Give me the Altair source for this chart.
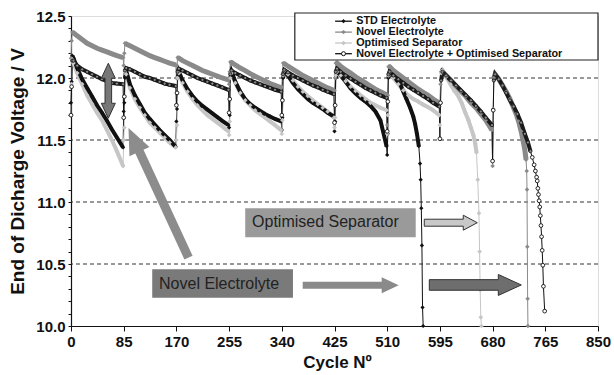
import altair as alt
import pandas as pd

SERIES = ["STD Electrolyte", "Novel Electrolyte", "Optimised Separator",
          "Novel Electrolyte + Optimised Separator"]
LINE_COLORS = ["#111111", "#8a8a8a", "#c6c6c6", "#111111"]

BLOCK_STARTS = [0, 85, 170, 255, 340, 425, 510, 595]
OFFSETS = [0, 1, 2, 4, 10, 18, 26, 34, 42, 50, 58, 66, 74, 84]

STD_BLOCKS = [
    [11.80, 11.97, 12.18, 12.16, 12.08, 11.99, 11.92, 11.85, 11.78, 11.72, 11.655, 11.585, 11.52, 11.44],
    [11.73, 11.80, 12.00, 12.06, 11.95, 11.86, 11.79, 11.72, 11.67, 11.625, 11.58, 11.54, 11.50, 11.445],
    [11.65, 11.75, 12.00, 12.05, 11.98, 11.91, 11.855, 11.81, 11.775, 11.745, 11.715, 11.685, 11.655, 11.62],
    [11.60, 11.70, 12.00, 12.05, 11.97, 11.89, 11.83, 11.79, 11.76, 11.735, 11.71, 11.69, 11.67, 11.65],
    [11.58, 11.68, 12.00, 12.05, 12.02, 11.96, 11.91, 11.87, 11.83, 11.80, 11.775, 11.75, 11.72, 11.69],
    [11.57, 11.65, 12.00, 12.05, 12.02, 11.97, 11.915, 11.875, 11.84, 11.81, 11.775, 11.73, 11.66, 11.45],
]
STD_TAIL_C = [510, 511, 512, 514, 520, 526, 531, 536, 541, 547, 552, 555, 558, 561, 563, 564, 565, 566, 567, 568]
STD_TAIL_V = [11.38, 11.55, 12.00, 12.05, 12.02, 11.98, 11.95, 11.89, 11.83, 11.76, 11.69, 11.63, 11.55, 11.45,
              11.31, 11.18, 10.95, 10.65, 10.15, 10.00]

NOV_BLOCKS = [
    [12.16, 12.30, 12.37, 12.365, 12.34, 12.31, 12.28, 12.26, 12.24, 12.225, 12.21, 12.195, 12.18, 12.165],
    [12.10, 12.20, 12.28, 12.275, 12.26, 12.24, 12.22, 12.20, 12.18, 12.165, 12.15, 12.135, 12.12, 12.105],
    [12.00, 12.10, 12.165, 12.16, 12.14, 12.12, 12.10, 12.08, 12.06, 12.045, 12.03, 12.015, 12.00, 11.985],
    [11.95, 12.05, 12.13, 12.125, 12.105, 12.08, 12.06, 12.035, 12.015, 11.995, 11.975, 11.955, 11.94, 11.92],
    [11.93, 12.03, 12.12, 12.115, 12.095, 12.07, 12.045, 12.02, 12.00, 11.98, 11.96, 11.94, 11.92, 11.90],
    [11.90, 12.00, 12.12, 12.12, 12.095, 12.065, 12.04, 12.01, 11.985, 11.96, 11.935, 11.91, 11.89, 11.865],
    [11.62, 11.86, 12.09, 12.09, 12.06, 12.03, 12.00, 11.97, 11.94, 11.91, 11.885, 11.86, 11.83, 11.80],
    [11.80, 11.95, 12.05, 12.055, 12.02, 11.98, 11.935, 11.89, 11.85, 11.80, 11.76, 11.71, 11.66, 11.58],
]
NOV_TAIL_C = [680, 681, 682, 684, 690, 696, 702, 708, 713, 718, 722, 726, 729, 732, 734, 735, 735.5, 736, 736.5, 737]
NOV_TAIL_V = [11.29, 11.75, 12.00, 12.03, 11.99, 11.94, 11.89, 11.83, 11.77, 11.71, 11.65, 11.57, 11.50, 11.42,
              11.34, 11.25, 11.10, 10.64, 10.22, 10.00]

OPT_BLOCKS = [
    [11.70, 11.95, 12.15, 12.12, 12.04, 11.95, 11.86, 11.79, 11.72, 11.66, 11.58, 11.50, 11.41, 11.29],
    [11.50, 11.60, 12.05, 12.03, 11.92, 11.83, 11.76, 11.70, 11.64, 11.60, 11.56, 11.52, 11.48, 11.44],
    [11.50, 11.62, 12.00, 12.04, 11.96, 11.89, 11.83, 11.78, 11.74, 11.70, 11.67, 11.64, 11.61, 11.57],
    [11.54, 11.65, 12.00, 12.04, 11.96, 11.88, 11.82, 11.78, 11.74, 11.71, 11.68, 11.65, 11.62, 11.58],
    [11.55, 11.66, 12.02, 12.06, 12.03, 11.98, 11.93, 11.89, 11.855, 11.82, 11.79, 11.76, 11.73, 11.68],
    [11.60, 11.68, 12.02, 12.05, 12.02, 11.975, 11.93, 11.895, 11.86, 11.83, 11.80, 11.78, 11.76, 11.74],
    [11.55, 11.70, 12.02, 12.05, 12.00, 11.95, 11.90, 11.86, 11.83, 11.81, 11.785, 11.765, 11.74, 11.70],
]
OPT_TAIL_C = [595, 596, 597, 599, 605, 612, 618, 624, 630, 636, 641, 645, 649, 652, 654, 656, 658, 659, 660, 661, 662]
OPT_TAIL_V = [11.62, 11.80, 12.04, 12.06, 12.01, 11.95, 11.90, 11.86, 11.80, 11.72, 11.66, 11.60, 11.54, 11.47,
              11.40, 11.18, 10.91, 10.60, 10.29, 10.07, 10.00]

NOS_BLOCKS = [
    [11.70, 11.93, 12.14, 12.14, 12.10, 12.07, 12.05, 12.03, 12.01, 11.99, 11.975, 11.96, 11.955, 11.95],
    [11.68, 11.85, 12.06, 12.08, 12.07, 12.05, 12.03, 12.01, 12.00, 11.985, 11.97, 11.955, 11.945, 11.935],
    [11.78, 11.88, 12.05, 12.075, 12.06, 12.04, 12.02, 12.00, 11.985, 11.97, 11.955, 11.94, 11.925, 11.905],
    [11.72, 11.83, 12.03, 12.06, 12.04, 12.02, 12.00, 11.98, 11.965, 11.95, 11.935, 11.92, 11.905, 11.89],
    [11.70, 11.82, 12.03, 12.065, 12.045, 12.02, 12.00, 11.98, 11.96, 11.94, 11.925, 11.905, 11.89, 11.87],
    [11.64, 11.78, 12.05, 12.075, 12.05, 12.02, 11.995, 11.97, 11.945, 11.92, 11.90, 11.88, 11.86, 11.84],
    [11.57, 11.81, 12.03, 12.05, 12.02, 11.99, 11.96, 11.93, 11.905, 11.88, 11.855, 11.83, 11.80, 11.77],
    [11.51, 11.80, 11.98, 12.05, 12.02, 11.98, 11.94, 11.90, 11.86, 11.82, 11.775, 11.73, 11.68, 11.62],
]
NOS_TAIL_C = [680, 681, 682, 684, 690, 696, 702, 708, 714, 720, 726, 732, 737, 741, 744, 747, 749, 751, 752,
              753, 754, 755, 756, 757, 758, 759, 760, 761, 762, 764]
NOS_TAIL_V = [11.33, 11.74, 11.98, 12.03, 11.99, 11.94, 11.88, 11.82, 11.77, 11.71, 11.64, 11.55, 11.48, 11.41,
              11.36, 11.30, 11.25, 11.20, 11.17, 11.11, 11.06, 11.01, 10.96, 10.89, 10.81, 10.72, 10.61, 10.49,
              10.32, 10.12]

TAIL_CORE_END = {SERIES[0]: 561, SERIES[1]: 734, SERIES[2]: 654, SERIES[3]: 741}

X_TICKS = [0, 85, 170, 255, 340, 425, 510, 595, 680, 765, 850]
Y_TICKS = [round(10 + i * 0.1, 1) for i in range(26)]
GRID_V = [10.5, 11.0, 11.5, 12.0]

rows = []


def add(series, blocks, tail_c, tail_v):
    idx = 0
    for b, vals in zip(BLOCK_STARTS, blocks):
        for k, (off, v) in enumerate(zip(OFFSETS, vals)):
            rows.append(dict(series=series, block=b, cycle=b + off, v=v, core=k >= 2, idx=idx))
            idx += 1
    tb = tail_c[0]
    for k, (c, v) in enumerate(zip(tail_c, tail_v)):
        rows.append(dict(series=series, block=tb, cycle=c, v=v,
                         core=(k >= 2 and c <= TAIL_CORE_END[series]), idx=idx))
        idx += 1


add(SERIES[0], STD_BLOCKS, STD_TAIL_C, STD_TAIL_V)
add(SERIES[1], NOV_BLOCKS, NOV_TAIL_C, NOV_TAIL_V)
add(SERIES[2], OPT_BLOCKS, OPT_TAIL_C, OPT_TAIL_V)
add(SERIES[3], NOS_BLOCKS, NOS_TAIL_C, NOS_TAIL_V)
df = pd.DataFrame(rows)

FONT = "Liberation Sans"
XSCALE = alt.Scale(domain=[0, 850], nice=False, zero=False)

X_ENC = alt.X("cycle:Q", scale=XSCALE,
              axis=alt.Axis(values=X_TICKS, title="Cycle Nº", grid=False, tickSize=5,
                            labelPadding=3, labelFontSize=15, labelFontWeight="bold",
                            labelColor="#111", labelFlush=False, labelOverlap=False,
                            titleFontSize=17, titleFontWeight="bold", titleColor="#111",
                            titleX=266, titleY=41, titleBaseline="alphabetic",
                            domainColor="#111", tickColor="#111", domainWidth=1.2))
Y_ENC = alt.Y("v:Q", scale=alt.Scale(domain=[10, 12.5], nice=False, zero=False),
              axis=alt.Axis(values=Y_TICKS, title="End of Dicharge Voltage / V", grid=False,
                            labelExpr="round(datum.value*10) % 5 == 0 ? format(datum.value, '.1f') : ''",
                            tickSize=3, labelPadding=3, labelFontSize=15, labelFontWeight="bold",
                            labelColor="#111", labelOverlap=False, labelFlush=False,
                            titleFontSize=19, titleFontWeight="bold", titleColor="#111",
                            titleX=-54, titleY=155, titleAngle=270, titleAlign="center",
                            titleBaseline="middle",
                            domainColor="#111", tickColor="#111", domainWidth=1.2))

COLOR_ENC = alt.Color("series:N", scale=alt.Scale(domain=SERIES, range=LINE_COLORS), legend=None)

grid = alt.Chart(pd.DataFrame({"v": GRID_V})).mark_rule(
    strokeDash=[4, 3], color="#333", strokeWidth=1).encode(y=Y_ENC)

thin = alt.Chart(df).mark_line(strokeWidth=1).encode(
    x=X_ENC, y=Y_ENC, color=COLOR_ENC, detail="series:N", order="idx:Q")


def thick(series, width, color):
    d = df[(df.series == series) & (df.core)]
    return alt.Chart(d).mark_line(strokeWidth=width, color=color).encode(
        x=X_ENC, y=Y_ENC, detail="block:Q", order="idx:Q")


thick_opt = thick(SERIES[2], 4, "#c6c6c6")
thick_nov = thick(SERIES[1], 5, "#8a8a8a")
thick_std = thick(SERIES[0], 4, "#111111")
thick_nos = thick(SERIES[3], 4, "#1a1a1a")

DIA_SIZES = [18, 24, 12, 16]
dia = alt.Chart(df[df.series != SERIES[3]]).mark_point(
    shape="diamond", filled=True, opacity=1).encode(
    x=X_ENC, y=Y_ENC, color=COLOR_ENC,
    size=alt.Size("series:N", scale=alt.Scale(domain=SERIES, range=DIA_SIZES), legend=None))

nos = df[df.series == SERIES[3]]
circ_core = alt.Chart(nos[nos.core]).mark_point(
    shape="circle", filled=True, fill="#8c8c8c", stroke="#111", strokeWidth=0.8,
    size=10, opacity=1).encode(x=X_ENC, y=Y_ENC)
circ_free = alt.Chart(nos[~nos.core]).mark_point(
    shape="circle", filled=True, fill="white", stroke="#111", strokeWidth=0.9,
    size=14, opacity=1).encode(x=X_ENC, y=Y_ENC)

# annotation boxes and texts (data coordinates)
BOX_LABELS = ["Optimised Separator", "Novel Electrolyte"]
BOX_X1 = [281, 131]
BOX_X2 = [556, 358]
BOX_Y1 = [10.949, 10.457]
BOX_Y2 = [10.715, 10.228]
BOX_FILL = ["#9a9a9a", "#7a7a7a"]
TEXT_X = [292, 142]
TEXT_Y = [10.835, 10.342]


def box(i):
    return alt.Chart(pd.DataFrame({"cycle": [BOX_X1[i]], "cycle2": [BOX_X2[i]],
                                   "v": [BOX_Y1[i]], "v2": [BOX_Y2[i]]})).mark_rect(
        fill=BOX_FILL[i]).encode(x=X_ENC, x2="cycle2:Q", y=Y_ENC, y2="v2:Q")


texts = alt.Chart(pd.DataFrame({"cycle": TEXT_X, "v": TEXT_Y, "lab": BOX_LABELS})).mark_text(
    align="left", baseline="middle", fontSize=16, font=FONT, color="#222").encode(
    x=X_ENC, y=Y_ENC, text="lab:N")

# arrows: custom symbol paths drawn in pixels around an anchor in data coordinates
ARROW_LIGHT = "M0,-3.5L39,-3.5L39,-7.5L53,0L39,7.5L39,3.5L0,3.5Z"
ARROW_GRAY = "M0,-3.5L79,-3.5L79,-8L96,0L79,8L79,3.5L0,3.5Z"
ARROW_DARK = "M0,-5.3L69,-5.3L69,-10.5L92,0L69,10.5L69,5.3L0,5.3Z"
ARROW_DIAG = ("M4.08,-1.89L-44.99,-107.8L-39.09,-110.54L-60,-129.5L-59.05,-101.28"
              "L-53.15,-104.02L-4.08,1.89Z")
ARROW_DOUBLE = ("M0,-27.5L7,-12.5L3.3,-12.5L3.3,12.5L7,12.5L0,27.5L-7,12.5L-3.3,12.5"
                "L-3.3,-12.5L-7,-12.5Z")


def arrow(path, cx, cy, fill, stroke=None):
    kw = dict(shape=path, size=4, filled=True, fill=fill, opacity=1)
    if stroke:
        kw.update(stroke=stroke, strokeWidth=1)
    return alt.Chart(pd.DataFrame({"cycle": [cx], "v": [cy]})).mark_point(**kw).encode(
        x=X_ENC, y=Y_ENC)


arrows = [
    arrow(ARROW_LIGHT, 569.8, 10.833, "#c8c8c8", "#333"),
    arrow(ARROW_GRAY, 373.7, 10.328, "#8a8a8a"),
    arrow(ARROW_DARK, 577.9, 10.331, "#6e6e6e", "#333"),
    arrow(ARROW_DIAG, 189.5, 10.552, "#8c8c8c"),
    arrow(ARROW_DOUBLE, 60.2, 11.897, "#777777", "#333"),
]

# legend (drawn as layers in data coordinates)
legbox = alt.Chart(pd.DataFrame({"cycle": [361], "cycle2": [850], "v": [12.524], "v2": [12.145]})).mark_rect(
    fill="white", stroke="#222", strokeWidth=1.2).encode(x=X_ENC, x2="cycle2:Q", y=Y_ENC, y2="v2:Q")

LEG_ROW_V = [12.458, 12.37, 12.282, 12.196]
leg_df = pd.DataFrame({"series": SERIES, "v": LEG_ROW_V, "cycle": [426] * 4, "cycle2": [453] * 4,
                       "mid": [439.5] * 4, "tx": [460] * 4})
leg_lines = alt.Chart(leg_df).mark_rule(strokeWidth=1.3).encode(
    x=X_ENC, x2="cycle2:Q", y=Y_ENC, color=COLOR_ENC)
leg_dia = alt.Chart(leg_df[leg_df.series != SERIES[3]]).mark_point(
    shape="diamond", filled=True, opacity=1).encode(
    x=alt.X("mid:Q", scale=XSCALE), y=Y_ENC, color=COLOR_ENC,
    size=alt.Size("series:N", scale=alt.Scale(domain=SERIES, range=DIA_SIZES), legend=None))
leg_circ = alt.Chart(leg_df[leg_df.series == SERIES[3]]).mark_point(
    shape="circle", filled=True, fill="white", stroke="#111", strokeWidth=1,
    size=16, opacity=1).encode(x=alt.X("mid:Q", scale=XSCALE), y=Y_ENC)
leg_text = alt.Chart(leg_df).mark_text(
    align="left", baseline="middle", fontSize=10.8, fontWeight="bold", font=FONT, color="#111").encode(
    x=alt.X("tx:Q", scale=XSCALE), y=Y_ENC, text="series:N")

chart = alt.layer(
    grid, thin, thick_opt, thick_nov, thick_std, thick_nos, dia, circ_core, circ_free,
    box(0), box(1), texts, *arrows, legbox, leg_lines, leg_dia, leg_circ, leg_text
).properties(
    width=527, height=310, autosize="none",
    padding={"left": 71, "top": 16, "right": 16, "bottom": 49}
).configure_view(stroke="#222", strokeWidth=1.2).configure(font=FONT, background="white")

chart.save("out.html", embed_options={"renderer": "svg", "actions": False})
